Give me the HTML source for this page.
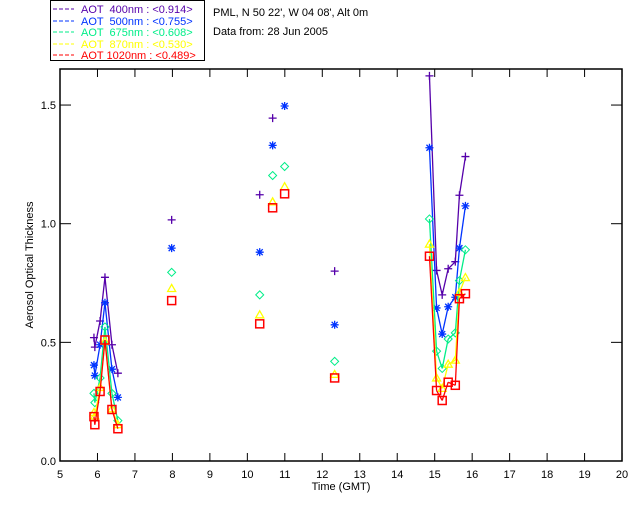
<!DOCTYPE html>
<html><head><meta charset="utf-8"><style>
body{margin:0;background:#fff;}
svg{display:block;font-family:"Liberation Sans",sans-serif;}
</style></head><body>
<svg id="chart" width="640" height="512" viewBox="0 0 640 512">
<g>
<rect x="50.5" y="0.5" width="154" height="60" fill="#fff" stroke="#000"/>
<g font-size="11">
<g><line x1="53" y1="9" x2="74" y2="9" stroke="#5500aa" stroke-dasharray="4,2"/><text x="81" y="13" fill="#5500aa" xml:space="preserve">AOT  400nm : &lt;0.914&gt;</text></g>
<g><line x1="53" y1="21" x2="74" y2="21" stroke="#0033ff" stroke-dasharray="4,2"/><text x="81" y="25" fill="#0033ff" xml:space="preserve">AOT  500nm : &lt;0.755&gt;</text></g>
<g><line x1="53" y1="32" x2="74" y2="32" stroke="#00ee88" stroke-dasharray="4,2"/><text x="81" y="36" fill="#00ee88" xml:space="preserve">AOT  675nm : &lt;0.608&gt;</text></g>
<g><line x1="53" y1="44" x2="74" y2="44" stroke="#ffff00" stroke-dasharray="4,2"/><text x="81" y="48" fill="#ffff00" xml:space="preserve">AOT  870nm : &lt;0.530&gt;</text></g>
<g><line x1="53" y1="55" x2="74" y2="55" stroke="#ff0000" stroke-dasharray="4,2"/><text x="81" y="59" fill="#ff0000" xml:space="preserve">AOT 1020nm : &lt;0.489&gt;</text></g>
</g></g>
<text x="213" y="16" font-size="11">PML, N 50 22', W 04 08', Alt 0m</text>
<text x="213" y="35" font-size="11">Data from: 28 Jun 2005</text>
<rect x="60" y="69" width="562" height="392" fill="none" stroke="#000" stroke-width="1.5"/>
<g id="axes"></g>
<g id="marks"></g>
<text x="341" y="490" font-size="11" text-anchor="middle">Time (GMT)</text>
<text transform="translate(33,265) rotate(-90)" font-size="11" text-anchor="middle">Aerosol Optical Thickness</text>
</svg>
<script>
const times = [5.906,5.93,6.07,6.2,6.386,6.545, 7.98, 10.33, 10.675, 10.995, 12.33, 14.86,15.05,15.2,15.36,15.55,15.66,15.82];
const aot400 = [0.52,0.48,0.59,0.774,0.49,0.37, 1.016, 1.122, 1.445, null, 0.80, 1.623,0.803,0.70,0.81,0.84,1.12,1.283];
const aot500 = [0.404,0.36,0.49,0.667,0.387,0.268, 0.897, 0.88, 1.33, 1.496, 0.574, 1.32,0.645,0.535,0.65,0.69,0.897,1.075];
const aot675 = [0.285,0.246,0.35,0.565,0.285,0.17, 0.795, 0.70, 1.203, 1.241, 0.42, 1.02,0.463,0.39,0.514,0.54,0.76,0.89];
const aot870 = [0.204,0.19,0.31,0.505,0.22,0.153, 0.727, 0.616, 1.092, 1.156, 0.365, 0.914,0.35,0.306,0.408,0.425,0.71,0.773];
const aot1020 = [0.187,0.153,0.293,0.51,0.217,0.136, 0.676, 0.578, 1.067, 1.126, 0.35, 0.863,0.297,0.255,0.332,0.319,0.684,0.705];
const xTicks = [5,6,7,8,9,10,11,12,13,14,15,16,17,18,19,20];
const yTicks = [0.0,0.5,1.0,1.5];
const yTickLabels = ["0.0","0.5","1.0","1.5"];
const NS="http://www.w3.org/2000/svg";
const X = t => 60 + (t-5)*37.47;
const Y = v => 461 - v*237.3;
const axes=document.getElementById('axes'), marks=document.getElementById('marks');
function mk(tag,attrs,parent){const e=document.createElementNS(NS,tag);for(const k in attrs)e.setAttribute(k,attrs[k]);parent.appendChild(e);return e;}
xTicks.forEach(t=>{
  const g=mk('g',{},axes);
  
  
  mk('line',{x1:X(t),x2:X(t),y1:461,y2:453,stroke:'#000'},g);
  mk('line',{x1:X(t),x2:X(t),y1:69,y2:77,stroke:'#000'},g);
  const tx=mk('text',{x:X(t),y:478,'font-size':11,'text-anchor':'middle'},g);tx.textContent=t;
});
yTicks.forEach((v,i)=>{
  const g=mk('g',{},axes);
  
  
  mk('line',{x1:60,x2:71,y1:Y(v),y2:Y(v),stroke:'#000'},g);
  mk('line',{x1:622,x2:611,y1:Y(v),y2:Y(v),stroke:'#000'},g);
  const tx=mk('text',{x:56,y:Y(v)+4,'font-size':11,'text-anchor':'end'},g);tx.textContent=yTickLabels[i];
});
const series=[
 {name:'aot-400',vals:aot400,color:'#5500aa',sym:'plus'},
 {name:'aot-500',vals:aot500,color:'#0033ff',sym:'star'},
 {name:'aot-675',vals:aot675,color:'#00ee88',sym:'diamond'},
 {name:'aot-870',vals:aot870,color:'#ffff00',sym:'triangle'},
 {name:'aot-1020',vals:aot1020,color:'#ff0000',sym:'square'}
];
series.forEach(s=>{
  const g=mk('g',{},marks);
  
  
  let prev=null;
  times.forEach((t,i)=>{
    const v=s.vals[i];
    if(v===null){prev=null;return;}
    if(prev && t-prev.t<0.3){
      const ln=mk('line',{x1:X(prev.t),y1:Y(prev.v),x2:X(t),y2:Y(v),stroke:s.color,'stroke-width':1.3},g);
      
      
    }
    prev={t,v};
  });
  times.forEach((t,i)=>{
    const v=s.vals[i]; if(v===null)return;
    const x=X(t),y=Y(v); let p;
    if(s.sym==='plus') p=mk('path',{d:`M${x-4},${y}H${x+4}M${x},${y-4}V${y+4}`,stroke:s.color,'stroke-width':1.3,fill:'none'},g);
    else if(s.sym==='star') p=mk('path',{d:`M${x-4},${y}H${x+4}M${x},${y-4}V${y+4}M${x-3},${y-3}L${x+3},${y+3}M${x-3},${y+3}L${x+3},${y-3}`,stroke:s.color,'stroke-width':1.3,fill:'none'},g);
    else if(s.sym==='diamond') p=mk('path',{d:`M${x},${y-4}L${x+4},${y}L${x},${y+4}L${x-4},${y}Z`,stroke:s.color,'stroke-width':1,fill:'none'},g);
    else if(s.sym==='triangle') p=mk('path',{d:`M${x},${y-4}L${x+4},${y+3}L${x-4},${y+3}Z`,stroke:s.color,'stroke-width':1.3,fill:'none'},g);
    else p=mk('rect',{x:x-4,y:y-4,width:8,height:8,stroke:s.color,'stroke-width':1.5,fill:'none'},g);
    
    
  });
});
</script>
</body></html>
